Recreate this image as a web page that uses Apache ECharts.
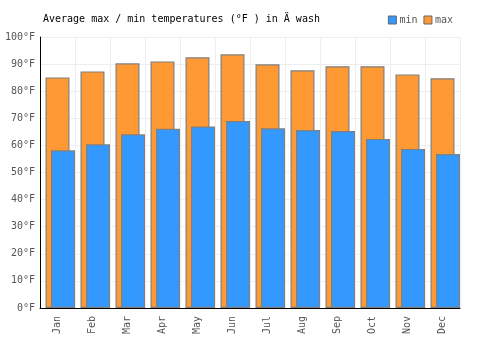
<!DOCTYPE html>
<html>
<head>
<meta charset="utf-8">
<script src="https://cdn.jsdelivr.net/npm/echarts@6/dist/echarts.min.js"></script>
<style>
  html, body { margin: 0; padding: 0; background: #fff; }
  #chart { width: 500px; height: 350px; }
</style>
</head>
<body>
<div id="chart"></div>
<script>
var months = ['Jan','Feb','Mar','Apr','May','Jun','Jul','Aug','Sep','Oct','Nov','Dec'];
var minTemps = [58.2, 60.4, 64.1, 66.1, 67.0, 69.0, 66.3, 65.7, 65.3, 62.4, 58.7, 56.8];
var maxTemps = [85.1, 87.3, 90.3, 91.0, 92.5, 93.6, 89.9, 87.7, 89.2, 89.2, 86.2, 84.8];
var spacer = [null, null, null, null, null, null, null, null, null, null, null, null];

var font = '"DejaVu Sans Mono", monospace';
var myChart = echarts.init(document.getElementById('chart'));
var option = {
  animation: false,
  textStyle: { fontFamily: font },
  title: {
    text: 'Average max / min temperatures (°F ) in Ä wash',
    left: 38, top: 9,
    textStyle: { fontFamily: font, fontSize: 10, fontWeight: 'normal', color: '#000' }
  },
  legend: {
    data: ['min', 'max'],
    right: 42, top: 10,
    itemWidth: 8, itemHeight: 8, itemGap: 6,
    icon: 'rect',
    textStyle: { fontFamily: font, fontSize: 10, color: '#555', padding: [0, 0, 0, -2] },
    itemStyle: { borderColor: '#666', borderWidth: 1 }
  },
  grid: { left: 40, right: 40, top: 37, bottom: 42 },
  xAxis: {
    type: 'category',
    data: months,
    axisLine: { lineStyle: { color: '#000' } },
    axisTick: { show: false },
    splitLine: { show: true, lineStyle: { color: '#eeeeee' } },
    axisLabel: { rotate: 90, color: '#555', fontFamily: font, fontSize: 10, margin: 8 }
  },
  yAxis: {
    type: 'value',
    min: 0, max: 100, interval: 10,
    axisLine: { show: true, lineStyle: { color: '#000' } },
    axisTick: { show: false },
    splitLine: { lineStyle: { color: '#eeeeee' } },
    axisLabel: { formatter: '{value}°F', color: '#555', fontFamily: font, fontSize: 10, margin: 5 }
  },
  series: [
    { name: 'spacer', type: 'bar', data: spacer, barWidth: 24, barGap: '-77%', silent: true },
    {
      name: 'max', type: 'bar', data: maxTemps, barWidth: 24, barGap: '-77%',
      itemStyle: { color: '#ff9933', borderColor: '#808080', borderWidth: 1.2 }
    },
    {
      name: 'min', type: 'bar', data: minTemps, barWidth: 24, barGap: '-77%',
      itemStyle: { color: '#3399ff', borderColor: '#808080', borderWidth: 1.2 }
    }
  ]
};
myChart.setOption(option);
</script>
</body>
</html>
